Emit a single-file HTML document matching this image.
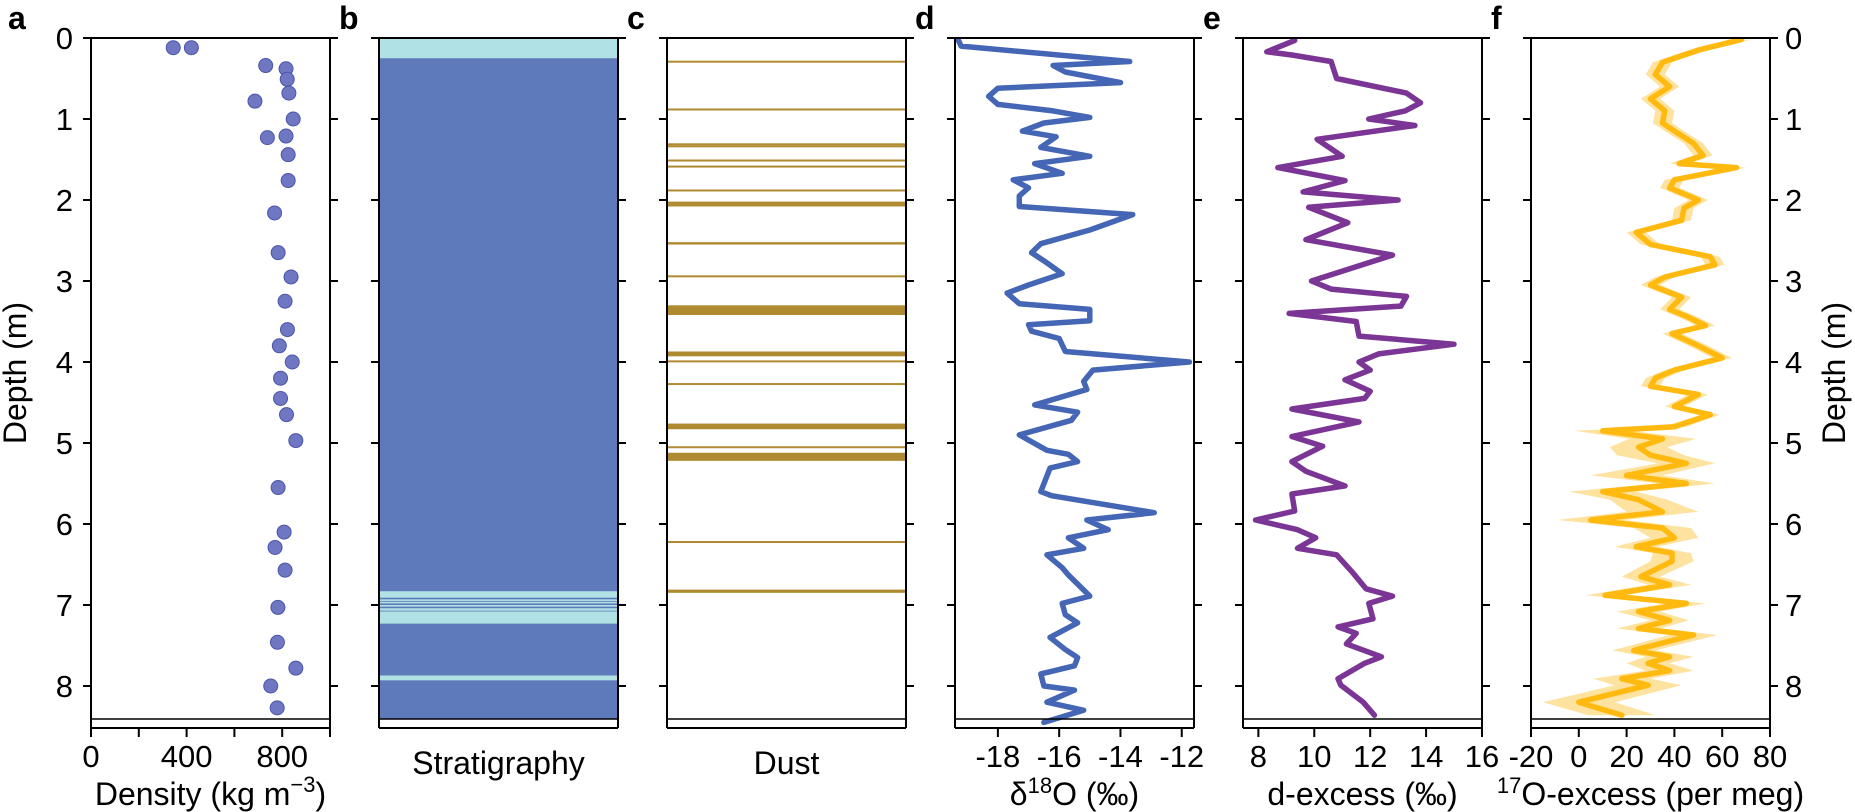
<!DOCTYPE html>
<html><head><meta charset="utf-8"><style>
html,body{margin:0;padding:0;background:#fff;}
svg{display:block;font-family:"Liberation Sans",Arial,sans-serif;}
</style></head><body>
<svg id="fig" width="1855" height="812" viewBox="0 0 1855 812" xmlns="http://www.w3.org/2000/svg"></svg>
<script>
// ---- data ----
const rhoDepth=[0.12,0.12,0.34,0.38,0.51,0.68,0.78,1.0,1.21,1.23,1.44,1.76,2.16,2.65,2.95,3.25,3.6,3.8,4.0,4.2,4.45,4.65,4.97,5.55,6.1,6.29,6.57,7.03,7.46,7.78,8.0,8.27];
const rhoVal=[344,420,731,816,821,828,686,846,816,738,825,825,768,783,837,812,822,788,842,793,793,818,857,783,808,770,812,782,780,857,752,779];
const lightTop=[0,6.83,6.93,6.96,7.0,7.04,7.08,7.87];
const lightBot=[0.25,6.91,6.95,6.98,7.02,7.07,7.23,7.93];
const dustTop=[0.28,0.87,1.30,1.325,1.50,1.575,1.87,2.02,2.52,2.93,3.30,3.87,3.98,4.26,4.76,5.04,5.12,6.21,6.81];
const dustBot=[0.30,0.89,1.315,1.34,1.515,1.59,1.89,2.08,2.55,2.95,3.42,3.93,4.0,4.28,4.83,5.06,5.22,6.23,6.85];
const dDepth=[0.02,0.1,0.29,0.34,0.42,0.55,0.62,0.72,0.82,0.9,0.98,1.05,1.15,1.22,1.35,1.46,1.55,1.67,1.75,1.85,1.95,2.08,2.18,2.37,2.54,2.65,2.75,2.91,3.05,3.15,3.28,3.35,3.49,3.54,3.62,3.71,3.87,4.0,4.1,4.24,4.34,4.53,4.62,4.72,4.9,5.09,5.14,5.23,5.31,5.6,5.65,5.86,5.95,6.07,6.17,6.3,6.38,6.54,6.63,6.89,6.98,7.12,7.22,7.4,7.55,7.65,7.75,7.85,8.0,8.05,8.2,8.3,8.45];
const dVal=[-19.3,-19.2,-13.7,-16.2,-15.8,-14.0,-18.0,-18.3,-18.0,-16.2,-15.0,-16.5,-17.2,-16.1,-16.6,-15.0,-16.8,-15.9,-17.5,-17.0,-17.3,-17.3,-13.6,-15.0,-16.6,-16.9,-16.5,-15.9,-17.0,-17.7,-17.3,-15.0,-15.0,-17.0,-16.9,-16.0,-15.8,-11.75,-14.9,-15.2,-15.1,-16.8,-15.4,-15.6,-17.3,-16.4,-15.7,-15.4,-16.3,-16.6,-16.25,-12.9,-15.1,-14.4,-15.7,-15.2,-16.4,-15.9,-15.7,-15.0,-15.9,-15.8,-15.4,-16.3,-15.8,-15.4,-15.5,-16.6,-16.5,-15.5,-16.4,-15.2,-16.5];
const eDepth=[0.03,0.17,0.21,0.29,0.5,0.68,0.8,0.9,1.0,1.08,1.25,1.46,1.6,1.76,1.9,2.0,2.09,2.28,2.49,2.68,3.0,3.1,3.19,3.31,3.4,3.5,3.68,3.78,3.9,4.0,4.1,4.22,4.36,4.45,4.58,4.74,4.92,5.04,5.23,5.35,5.53,5.63,5.84,5.95,6.07,6.17,6.3,6.38,6.59,6.8,6.89,6.98,7.17,7.27,7.35,7.48,7.64,7.72,7.91,7.99,8.2,8.36];
const eVal=[9.3,8.3,9.2,10.6,10.8,13.3,13.8,13.25,11.95,13.6,10.1,11.0,8.7,11.1,9.6,13.0,9.8,11.2,9.7,12.8,9.9,10.6,13.3,13.1,9.1,11.5,11.6,15.0,12.3,11.6,12.0,11.1,12.0,11.8,9.2,11.6,9.2,10.3,9.2,9.7,11.1,9.2,9.3,7.9,9.4,10.05,9.4,10.8,11.35,11.85,12.8,11.95,12.1,10.85,11.5,11.15,12.4,11.8,10.85,10.95,11.75,12.15];
const fDepth=[0.02,0.15,0.3,0.45,0.6,0.75,0.9,1.05,1.15,1.3,1.45,1.55,1.6,1.75,1.85,2.0,2.1,2.25,2.4,2.55,2.7,2.8,2.95,3.05,3.2,3.35,3.45,3.55,3.65,3.8,3.95,4.1,4.2,4.3,4.4,4.55,4.65,4.8,4.85,4.95,5.05,5.15,5.25,5.4,5.5,5.6,5.7,5.85,5.95,6.05,6.17,6.28,6.36,6.46,6.65,6.75,6.88,6.98,7.08,7.19,7.29,7.37,7.56,7.64,7.72,7.81,7.91,7.99,8.2,8.36];
const fVal=[68,50,35,32,38,30,36,35,40,48,52,42,66,40,38,50,44,43,24,30,55,57,36,30,43,38,46,53,39,50,60,40,32,30,50,40,55,40,10,35,25,30,45,20,45,10,25,35,5,35,40,24,39,39,26,38,11,45,25,38,25,48,23,38,29,38,18,29,0,18];
const fErr=[4,4,4,4,4,4,4,4,4,4,4,4,4,4,4,4,4,4,4,4,4,4,4,4,4,4,4,4,4,4,4,4,4,4,4,4,4,5,12,14,12,14,12,15,12,14,12,15,14,12,10,9,8,9,8,9,8,8,9,8,9,10,9,10,9,10,12,14,15,14];
const depthTicks=[0,1,2,3,4,5,6,7,8];
const rhoTicks=[0,200,400,600,800,1000];
const rhoLabels=["0","","400","","800",""];
const dTicks=[-18,-16,-14,-12];
const eTicks=[8,10,12,14,16];
const fTicks=[-20,0,20,40,60,80];

// ---- layout ----
const NS="http://www.w3.org/2000/svg";
const svg=document.getElementById('fig');
const TOP=38, PXM=81, BOT=728, INNER=719, W=239;
const TICKFS=31, TITLEFS=32, SUPFS=22;
const lefts=[91,379,667,955,1243,1531];
const Y=d=>TOP+d*PXM;
function mk(tag,attrs,parent){const e=document.createElementNS(NS,tag);for(const k in attrs)e.setAttribute(k,attrs[k]);(parent||svg).appendChild(e);return e;}
function sx(i,lo,hi){return v=>lefts[i]+(v-lo)/(hi-lo)*W;}

const panelNames=['density-panel','stratigraphy-panel','dust-panel','d18o-panel','dexcess-panel','o17excess-panel'];
const letters=['a','b','c','d','e','f'];
const groups=[];
for(let i=0;i<6;i++){
  const g=mk('g',{});
  
  
  groups.push(g);
  const t=mk('text',{x:(i===0?8:lefts[i]-40),y:29,'font-size':32,'font-weight':'bold'},g);
  t.textContent=letters[i];
  
  
}

// panel a: density
(function(){
  const g=groups[0], x=sx(0,0,1000);
  for(let k=0;k<rhoDepth.length;k++){
    const c=mk('circle',{cx:x(rhoVal[k]),cy:Y(rhoDepth[k]),r:7,fill:'#6f76c2',stroke:'#4b55aa','stroke-width':1},g);
    
    
  }
  rhoTicks.forEach((v,k)=>{
    mk('line',{x1:x(v),x2:x(v),y1:BOT,y2:BOT+9,stroke:'#000','stroke-width':2},g);
    if(rhoLabels[k]){const t=mk('text',{x:x(v),y:767,'font-size':TICKFS,'text-anchor':'middle'},g);t.textContent=rhoLabels[k];
      
      }
  });
  const t=mk('text',{x:lefts[0]+W/2,y:805,'font-size':TITLEFS,'text-anchor':'middle'},g);
  t.innerHTML='Density (kg m<tspan dy="-13" font-size="'+SUPFS+'">−3</tspan><tspan dy="13">)</tspan>';
  
  
})();

// panel b: stratigraphy
(function(){
  const g=groups[1];
  const r=mk('rect',{x:lefts[1],y:Y(0),width:W,height:INNER-Y(0),fill:'#5f7aba'},g);
  
  
  for(let k=0;k<lightTop.length;k++){
    const b=mk('rect',{x:lefts[1],y:Y(lightTop[k]),width:W,height:(lightBot[k]-lightTop[k])*PXM,fill:'#b0e1e4'},g);
    
    
  }
  const t=mk('text',{x:lefts[1]+W/2,y:774,'font-size':TITLEFS,'text-anchor':'middle'},g);
  t.textContent='Stratigraphy';
  
  
})();

// panel c: dust
(function(){
  const g=groups[2];
  for(let k=0;k<dustTop.length;k++){
    const h=Math.max(2,(dustBot[k]-dustTop[k])*PXM);
    const b=mk('rect',{x:lefts[2],y:Y(dustTop[k]),width:W,height:h,fill:'#b08a30'},g);
    
    
  }
  const t=mk('text',{x:lefts[2]+W/2,y:774,'font-size':TITLEFS,'text-anchor':'middle'},g);
  t.textContent='Dust';
  
  
})();

function linePanel(i,depths,vals,lo,hi,ticks,color,name){
  const g=groups[i], x=sx(i,lo,hi);
  const pts=depths.map((d,k)=>x(vals[k]).toFixed(1)+','+Y(d).toFixed(1)).join(' ');
  const p=mk('polyline',{points:pts,fill:'none',stroke:color,'stroke-width':5.5,'stroke-linejoin':'round','stroke-linecap':'round'},g);
  
  
  ticks.forEach(v=>{
    mk('line',{x1:x(v),x2:x(v),y1:BOT,y2:BOT+9,stroke:'#000','stroke-width':2},g);
    const t=mk('text',{x:x(v),y:767,'font-size':TICKFS,'text-anchor':'middle'},g);
    t.textContent=String(v);
    
    
  });
  return {g,x};
}
// panel d
(function(){
  const {g}=linePanel(3,dDepth,dVal,-19.4,-11.6,dTicks,'#4566b5','d18o-line');
  const t=mk('text',{x:lefts[3]+W/2,y:805,'font-size':TITLEFS,'text-anchor':'middle'},g);
  t.innerHTML='δ<tspan dy="-12" font-size="'+SUPFS+'">18</tspan><tspan dy="12">O (‰)</tspan>';
  
  
})();
// panel e
(function(){
  const {g}=linePanel(4,eDepth,eVal,7.45,16,eTicks,'#7a3595','dexcess-line');
  const t=mk('text',{x:lefts[4]+W/2,y:805,'font-size':TITLEFS,'text-anchor':'middle'},g);
  t.textContent='d-excess (‰)';
  
  
})();
// panel f
(function(){
  const g=groups[5], x=sx(5,-20,80);
  const up=fDepth.map((d,k)=>x(fVal[k]+fErr[k]).toFixed(1)+','+Y(d).toFixed(1));
  const dn=fDepth.map((d,k)=>x(fVal[k]-fErr[k]).toFixed(1)+','+Y(d).toFixed(1)).reverse();
  const band=mk('polygon',{points:up.concat(dn).join(' '),fill:'#fde2a0'},g);
  
  
  linePanel(5,fDepth,fVal,-20,80,fTicks,'#ffb90f','o17excess-line');
  const t=mk('text',{x:lefts[5]+W/2,y:805,'font-size':TITLEFS,'text-anchor':'middle'},g);
  t.innerHTML='<tspan dy="-12" font-size="'+SUPFS+'">17</tspan><tspan dy="12">O-excess (per meg)</tspan>';
  
  
})();

// frames, depth ticks, inner line
for(let i=0;i<6;i++){
  const g=groups[i], L=lefts[i], R=L+W;
  mk('line',{x1:L,x2:R,y1:TOP,y2:TOP,stroke:'#000','stroke-width':2},g);
  mk('line',{x1:L,x2:R,y1:BOT,y2:BOT,stroke:'#000','stroke-width':2},g);
  mk('line',{x1:L,x2:L,y1:TOP,y2:BOT,stroke:'#000','stroke-width':2},g);
  mk('line',{x1:R,x2:R,y1:TOP,y2:BOT,stroke:'#000','stroke-width':2},g);
  mk('line',{x1:L,x2:R,y1:INNER,y2:INNER,stroke:'#000','stroke-width':1.5},g);
  depthTicks.forEach(d=>{
    mk('line',{x1:L-8,x2:L,y1:Y(d),y2:Y(d),stroke:'#000','stroke-width':2},g);
    mk('line',{x1:R,x2:R+8,y1:Y(d),y2:Y(d),stroke:'#000','stroke-width':2},g);
  });
}
depthTicks.forEach(d=>{
  const t=mk('text',{x:73,y:Y(d)+11,'font-size':TICKFS,'text-anchor':'end'});
  t.textContent=d;
  
  
  const t2=mk('text',{x:1785,y:Y(d)+11,'font-size':TICKFS,'text-anchor':'start'});
  t2.textContent=d;
  
  
});
const yl=mk('text',{x:0,y:0,'font-size':TITLEFS,'text-anchor':'middle',transform:'translate(26,'+((TOP+BOT)/2-10)+') rotate(-90)'});
yl.textContent='Depth (m)';


const yr=mk('text',{x:0,y:0,'font-size':TITLEFS,'text-anchor':'middle',transform:'translate(1845,'+((TOP+BOT)/2-10)+') rotate(-90)'});
yr.textContent='Depth (m)';


</script>
</body></html>
